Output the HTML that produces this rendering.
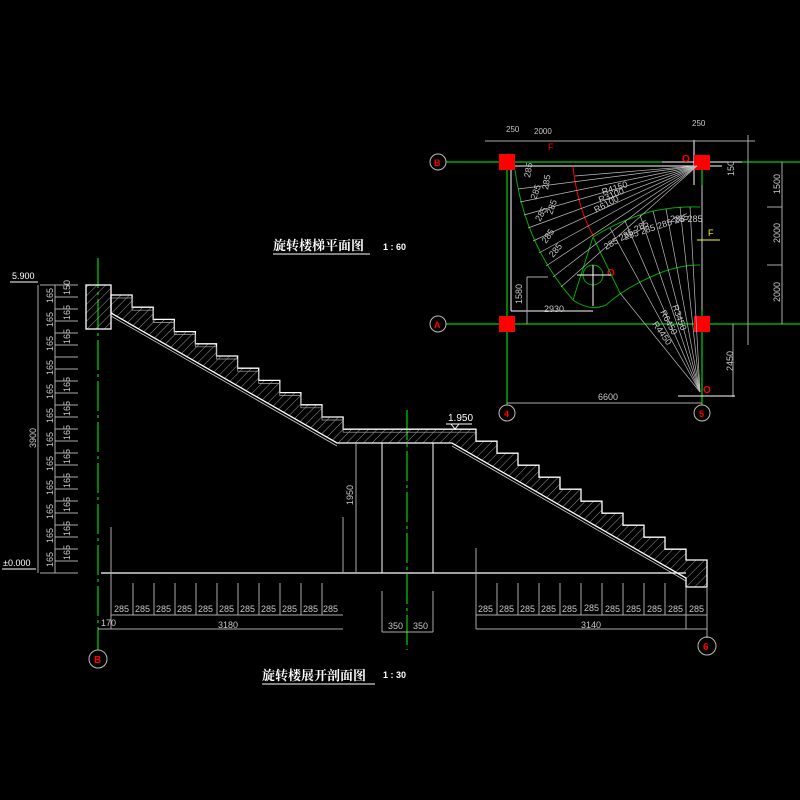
<!DOCTYPE html>
<html><head><meta charset="utf-8"><style>
html,body{margin:0;padding:0;background:#000;width:800px;height:800px;overflow:hidden}
svg{display:block}
text{font-family:"Liberation Sans",sans-serif;fill:#c8c8c8;font-size:9px}
.t{font-family:"Liberation Serif","Noto Serif CJK SC",serif;fill:#fff;font-weight:bold}
</style></head><body>
<svg width="800" height="800" viewBox="0 0 800 800" xmlns="http://www.w3.org/2000/svg">
<defs>
<pattern id="h" width="6" height="6" patternUnits="userSpaceOnUse" patternTransform="rotate(45)">
<line x1="0" y1="0" x2="0" y2="6" stroke="#bbb" stroke-width="0.8"/></pattern>
</defs>
<rect width="800" height="800" fill="#000"/>

<!-- ===== SECTION ===== -->
<!-- green axis B -->
<line x1="98" y1="258" x2="98" y2="650" stroke="#0f0" stroke-width="1" stroke-dasharray="30,4,3,4"/>
<circle cx="98" cy="659" r="9" stroke="#bbb" fill="none"/>
<text x="94" y="663" style="fill:#f00;font-weight:bold;font-size:10px">B</text>
<!-- axis mid -->
<line x1="407" y1="410" x2="407" y2="650" stroke="#0f0" stroke-dasharray="30,4,3,4"/>

<!-- stairs -->
<path d="M111,295 h21.1 v12.2 h21.1 v12.2 h21.1 v12.2 h21.1 v12.2 h21.1 v12.2 h21.1 v12.2 h21.1 v12.2 h21.1 v12.2 h21.1 v12.2 h21.1 v12.2 h21.1 v12.2 H476 v12 h21 v12 h21 v12 h21 v12 h21 v12 h21 v12 h21 v12 h21 v12 h21 v12 h21 v12 h21 V560 H707 V587 H686 V578 L452,443 H337 L111,313 Z" fill="url(#h)" stroke="#fff" stroke-width="1.3"/>
<path d="M111,298 h21.1 v12.2 h21.1 v12.2 h21.1 v12.2 h21.1 v12.2 h21.1 v12.2 h21.1 v12.2 h21.1 v12.2 h21.1 v12.2 h21.1 v12.2 h21.1 v12.2 h21.1 v12.2 H476" fill="none" stroke="#aaa" stroke-width="0.7"/>
<rect x="86" y="285" width="25" height="44" fill="url(#h)" stroke="#fff" stroke-width="1.3"/>
<line x1="111" y1="316" x2="337" y2="446" stroke="#ccc" stroke-width="0.8"/>
<line x1="452" y1="446" x2="686" y2="581" stroke="#ccc" stroke-width="0.8"/>

<!-- ground and supports -->
<line x1="101" y1="573" x2="686" y2="573" stroke="#fff" stroke-width="1.2"/>
<line x1="382" y1="443" x2="382" y2="573" stroke="#fff"/>
<line x1="433" y1="443" x2="433" y2="573" stroke="#fff"/>
<line x1="356" y1="443" x2="356" y2="573" stroke="#aaa"/>
<text x="0" y="0" transform="translate(353,505) rotate(-90)">1950</text>
<line x1="343" y1="517" x2="343" y2="573" stroke="#aaa"/>
<line x1="476" y1="548" x2="476" y2="629" stroke="#aaa"/>
<line x1="707" y1="587" x2="707" y2="638" stroke="#aaa"/>
<line x1="686" y1="587" x2="686" y2="629" stroke="#aaa"/>

<!-- elevation 1.950 -->
<text x="448" y="421" style="fill:#fff;font-size:10px">1.950</text>
<line x1="446" y1="424" x2="472" y2="424" stroke="#fff"/>
<path d="M451,424 l4,5 l4,-5" stroke="#fff" fill="none"/>

<!-- bottom dims left -->
<line x1="98" y1="629" x2="343" y2="629" stroke="#aaa"/>
<line x1="111" y1="615" x2="343" y2="615" stroke="#aaa"/>
<line x1="111" y1="527" x2="111" y2="629" stroke="#aaa"/>
<g stroke="#aaa">
<line x1="133" y1="583" x2="133" y2="615"/><line x1="154" y1="583" x2="154" y2="615"/><line x1="175" y1="583" x2="175" y2="615"/><line x1="196" y1="583" x2="196" y2="615"/><line x1="217" y1="583" x2="217" y2="615"/><line x1="238" y1="583" x2="238" y2="615"/><line x1="259" y1="583" x2="259" y2="615"/><line x1="280" y1="583" x2="280" y2="615"/><line x1="301" y1="583" x2="301" y2="615"/><line x1="322" y1="583" x2="322" y2="615"/>
<line x1="497" y1="583" x2="497" y2="615"/><line x1="518" y1="583" x2="518" y2="615"/><line x1="539" y1="583" x2="539" y2="615"/><line x1="560" y1="583" x2="560" y2="615"/><line x1="581" y1="583" x2="581" y2="615"/><line x1="602" y1="583" x2="602" y2="615"/><line x1="623" y1="583" x2="623" y2="615"/><line x1="644" y1="583" x2="644" y2="615"/><line x1="665" y1="583" x2="665" y2="615"/>
<line x1="382" y1="591" x2="382" y2="632"/><line x1="433" y1="591" x2="433" y2="632"/>
</g>
<g style="font-size:8px">
<text x="114" y="612">285</text><text x="135" y="612">285</text><text x="156" y="612">285</text><text x="177" y="612">285</text><text x="198" y="612">285</text><text x="219" y="612">285</text><text x="240" y="612">285</text><text x="261" y="612">285</text><text x="282" y="612">285</text><text x="303" y="612">285</text><text x="323" y="612">285</text>
<text x="478" y="612">285</text><text x="499" y="612">285</text><text x="520" y="612">285</text><text x="541" y="612">285</text><text x="562" y="612">285</text><text x="584" y="611">285</text><text x="605" y="612">285</text><text x="626" y="612">285</text><text x="647" y="612">285</text><text x="668" y="612">285</text><text x="689" y="612">285</text>
<text x="101" y="626">170</text><text x="218" y="628">3180</text><text x="581" y="628">3140</text>
<text x="388" y="629">350</text><text x="413" y="629">350</text>
</g>
<line x1="476" y1="615" x2="707" y2="615" stroke="#aaa"/>
<line x1="476" y1="629" x2="707" y2="629" stroke="#aaa"/>
<line x1="382" y1="632" x2="433" y2="632" stroke="#aaa"/>
<circle cx="707" cy="646" r="9" stroke="#bbb" fill="none"/>
<text x="703" y="650" style="fill:#f00;font-weight:bold;font-size:10px">6</text>

<!-- left dims -->
<line x1="38" y1="285" x2="38" y2="573" stroke="#aaa"/>
<line x1="55" y1="285" x2="55" y2="573" stroke="#aaa"/>
<line x1="40" y1="285" x2="78" y2="285" stroke="#aaa"/>
<line x1="40" y1="573" x2="78" y2="573" stroke="#aaa"/>
<g stroke="#aaa">
<line x1="55" y1="297" x2="78" y2="297"/><line x1="55" y1="309" x2="78" y2="309"/><line x1="55" y1="321" x2="78" y2="321"/><line x1="55" y1="333" x2="78" y2="333"/><line x1="55" y1="345" x2="78" y2="345"/><line x1="55" y1="357" x2="78" y2="357"/><line x1="55" y1="369" x2="78" y2="369"/><line x1="55" y1="381" x2="78" y2="381"/><line x1="55" y1="393" x2="78" y2="393"/><line x1="55" y1="405" x2="78" y2="405"/><line x1="55" y1="417" x2="78" y2="417"/><line x1="55" y1="429" x2="78" y2="429"/><line x1="55" y1="441" x2="78" y2="441"/><line x1="55" y1="453" x2="78" y2="453"/><line x1="55" y1="465" x2="78" y2="465"/><line x1="55" y1="477" x2="78" y2="477"/><line x1="55" y1="489" x2="78" y2="489"/><line x1="55" y1="501" x2="78" y2="501"/><line x1="55" y1="513" x2="78" y2="513"/><line x1="55" y1="525" x2="78" y2="525"/><line x1="55" y1="537" x2="78" y2="537"/><line x1="55" y1="549" x2="78" y2="549"/><line x1="55" y1="561" x2="78" y2="561"/>
</g>
<g style="font-size:8px">
<text transform="translate(53,303) rotate(-90)">165</text><text transform="translate(70,295) rotate(-90)">150</text>
<text transform="translate(53,327) rotate(-90)">165</text><text transform="translate(70,320) rotate(-90)">165</text>
<text transform="translate(53,351) rotate(-90)">165</text><text transform="translate(70,344) rotate(-90)">165</text>
<text transform="translate(53,375) rotate(-90)">165</text><text transform="translate(70,392) rotate(-90)">165</text>
<text transform="translate(53,399) rotate(-90)">165</text><text transform="translate(70,416) rotate(-90)">165</text>
<text transform="translate(53,423) rotate(-90)">165</text><text transform="translate(70,440) rotate(-90)">165</text>
<text transform="translate(53,447) rotate(-90)">165</text><text transform="translate(70,464) rotate(-90)">165</text>
<text transform="translate(53,471) rotate(-90)">165</text><text transform="translate(70,488) rotate(-90)">165</text>
<text transform="translate(53,495) rotate(-90)">165</text><text transform="translate(70,512) rotate(-90)">165</text>
<text transform="translate(53,519) rotate(-90)">165</text><text transform="translate(70,536) rotate(-90)">165</text>
<text transform="translate(53,543) rotate(-90)">165</text><text transform="translate(70,560) rotate(-90)">165</text>
<text transform="translate(53,567) rotate(-90)">165</text>
<text transform="translate(36,448) rotate(-90)">3900</text>
</g>
<text x="12" y="279" style="fill:#fff;font-size:9px">5.900</text>
<line x1="10" y1="282" x2="38" y2="282" stroke="#fff"/>
<text x="3" y="566" style="fill:#fff;font-size:9px">±0.000</text>
<line x1="2" y1="569" x2="36" y2="569" stroke="#fff"/>

<!-- titles -->
<text x="262" y="680" class="t" style="font-size:13px">旋转楼展开剖面图</text>
<text x="383" y="678" style="fill:#fff;font-size:9px;font-weight:bold">1 : 30</text>
<line x1="262" y1="684" x2="375" y2="684" stroke="#fff"/>
<text x="273" y="250" class="t" style="font-size:13px">旋转楼梯平面图</text>
<text x="383" y="250" style="fill:#fff;font-size:9px;font-weight:bold">1 : 60</text>
<line x1="273" y1="254" x2="370" y2="254" stroke="#fff"/>

<!-- ===== PLAN ===== -->
<line x1="446" y1="162" x2="800" y2="162" stroke="#0f0"/>
<line x1="446" y1="324" x2="800" y2="324" stroke="#0f0"/>
<line x1="507" y1="162" x2="507" y2="405" stroke="#0f0"/>
<line x1="702" y1="162" x2="702" y2="405" stroke="#0f0"/>
<circle cx="438" cy="162" r="8" stroke="#bbb" fill="none"/><text x="434" y="166" style="fill:#f00;font-weight:bold;font-size:9px">B</text>
<circle cx="438" cy="324" r="8" stroke="#bbb" fill="none"/><text x="434" y="328" style="fill:#f00;font-weight:bold;font-size:9px">A</text>
<circle cx="507" cy="413" r="8" stroke="#bbb" fill="none"/><text x="504" y="417" style="fill:#f00;font-weight:bold;font-size:9px">4</text>
<circle cx="702" cy="413" r="8" stroke="#bbb" fill="none"/><text x="699" y="417" style="fill:#f00;font-weight:bold;font-size:9px">5</text>
<line x1="511" y1="166" x2="511" y2="311" stroke="#fff"/>
<line x1="511" y1="166" x2="722" y2="166" stroke="#fff"/>
<line x1="511" y1="311" x2="593" y2="311" stroke="#fff"/>
<line x1="694" y1="140" x2="694" y2="185" stroke="#fff"/>
<line x1="702" y1="185" x2="702" y2="310" stroke="#ccc"/>
<line x1="662" y1="162" x2="742" y2="162" stroke="#fff"/>
<rect x="499" y="154" width="16" height="16" fill="#f00"/>
<rect x="694" y="155" width="16" height="15" fill="#f00"/>
<rect x="499" y="316" width="16" height="16" fill="#f00"/>
<rect x="694" y="316" width="16" height="16" fill="#f00"/>
<line x1="485" y1="141" x2="755" y2="141" stroke="#aaa"/>
<text x="506" y="132" style="font-size:8px">250</text><text x="534" y="134" style="font-size:8px">2000</text><text x="692" y="126" style="font-size:8px">250</text>
<line x1="748" y1="135" x2="748" y2="345" stroke="#aaa"/>
<line x1="782" y1="162" x2="782" y2="324" stroke="#aaa"/>
<line x1="767" y1="207" x2="782" y2="207" stroke="#aaa"/><line x1="767" y1="265" x2="782" y2="265" stroke="#aaa"/>
<g style="font-size:8px">
<text transform="translate(780,194) rotate(-90)">1500</text>
<text transform="translate(780,243) rotate(-90)">2000</text>
<text transform="translate(780,302) rotate(-90)">2000</text>
<text transform="translate(734,176) rotate(-90)">150</text>
<text transform="translate(733,371) rotate(-90)">2450</text>
<text transform="translate(522,304) rotate(-90)">1580</text>
<text x="544" y="312">2930</text>
<text x="598" y="400">6600</text>
</g>
<line x1="733" y1="324" x2="733" y2="397" stroke="#aaa"/>
<line x1="678" y1="396" x2="735" y2="396" stroke="#fff"/>
<line x1="527" y1="277" x2="527" y2="324" stroke="#aaa"/>
<line x1="527" y1="277" x2="548" y2="277" stroke="#aaa"/>
<line x1="507" y1="403" x2="702" y2="403" stroke="#aaa"/>
<text x="682" y="162" style="fill:#f00;font-weight:bold;font-size:10px">O</text>
<text x="703" y="393" style="fill:#f00;font-weight:bold;font-size:10px">O</text>
<text x="607" y="276" style="fill:#f00;font-weight:bold;font-size:10px">O</text>

<!-- arcs -->
<path d="M515,170 Q525,245 573,300 Q590,312 606,305 Q625,288 655,275 Q678,265 700,265" fill="none" stroke="#0a0"/>
<path d="M593,237 Q620,220 653,211 Q678,206 700,207" fill="none" stroke="#0a0"/>
<path d="M573,167 Q578,210 594,237" fill="none" stroke="#f00"/>
<path d="M593,237 L573,300 M593,237 L620,293" stroke="#0a0" fill="none"/>
<!-- O crosshair -->
<circle cx="593" cy="275" r="10" stroke="#0a0" fill="none"/>
<line x1="577" y1="275" x2="611" y2="275" stroke="#fff"/>
<line x1="593" y1="265" x2="593" y2="306" stroke="#fff"/>
<!-- radial lines left flight -->
<g stroke="#bbb" stroke-width="0.7">
<line x1="697" y1="166" x2="518" y2="189"/><line x1="697" y1="166" x2="520" y2="202"/><line x1="697" y1="166" x2="524" y2="215"/>
<line x1="697" y1="166" x2="528" y2="228"/><line x1="697" y1="166" x2="533" y2="241"/><line x1="697" y1="166" x2="539" y2="253"/>
<line x1="697" y1="166" x2="546" y2="266"/><line x1="697" y1="166" x2="553" y2="277"/><line x1="697" y1="166" x2="561" y2="287"/>
<line x1="697" y1="166" x2="575" y2="176"/>
</g>
<!-- radial lines right flight -->
<g stroke="#bbb" stroke-width="0.7">
<line x1="700" y1="392" x2="620" y2="293"/><line x1="700" y1="392" x2="610" y2="228"/><line x1="700" y1="392" x2="625" y2="221"/>
<line x1="700" y1="392" x2="640" y2="215"/><line x1="700" y1="392" x2="653" y2="211"/><line x1="700" y1="392" x2="666" y2="209"/>
<line x1="700" y1="392" x2="680" y2="207"/><line x1="700" y1="392" x2="690" y2="207"/>
</g>
<g style="font-size:8px">
<text transform="translate(603,195) rotate(-18)">R4150</text>
<text transform="translate(600,203) rotate(-22)">R3100</text>
<text transform="translate(596,213) rotate(-28)">R6100</text>
<text transform="translate(672,306) rotate(70)">R3450</text>
<text transform="translate(660,312) rotate(62)">R6450</text>
<text transform="translate(652,324) rotate(55)">R4450</text>
<text transform="translate(606,250) rotate(-30)">285 285 285</text>
<text transform="translate(625,240) rotate(-18)">285 285 285 285</text>
<text x="670" y="222">285 285</text>
<text transform="translate(530,178) rotate(-80)">285</text>
<text transform="translate(536,200) rotate(-70)">285</text>
<text transform="translate(540,222) rotate(-60)">285</text>
<text transform="translate(546,244) rotate(-55)">285</text>
<text transform="translate(553,258) rotate(-50)">285</text>
<text transform="translate(548,190) rotate(-80)">285</text>
<text transform="translate(552,215) rotate(-70)">285</text>
</g>
<text x="708" y="236" style="fill:#ff0;font-size:9px">F</text>
<line x1="697" y1="240" x2="720" y2="240" stroke="#ff0"/>
<text x="548" y="150" style="fill:#f00;font-size:9px">F</text>
</svg>
</body></html>
